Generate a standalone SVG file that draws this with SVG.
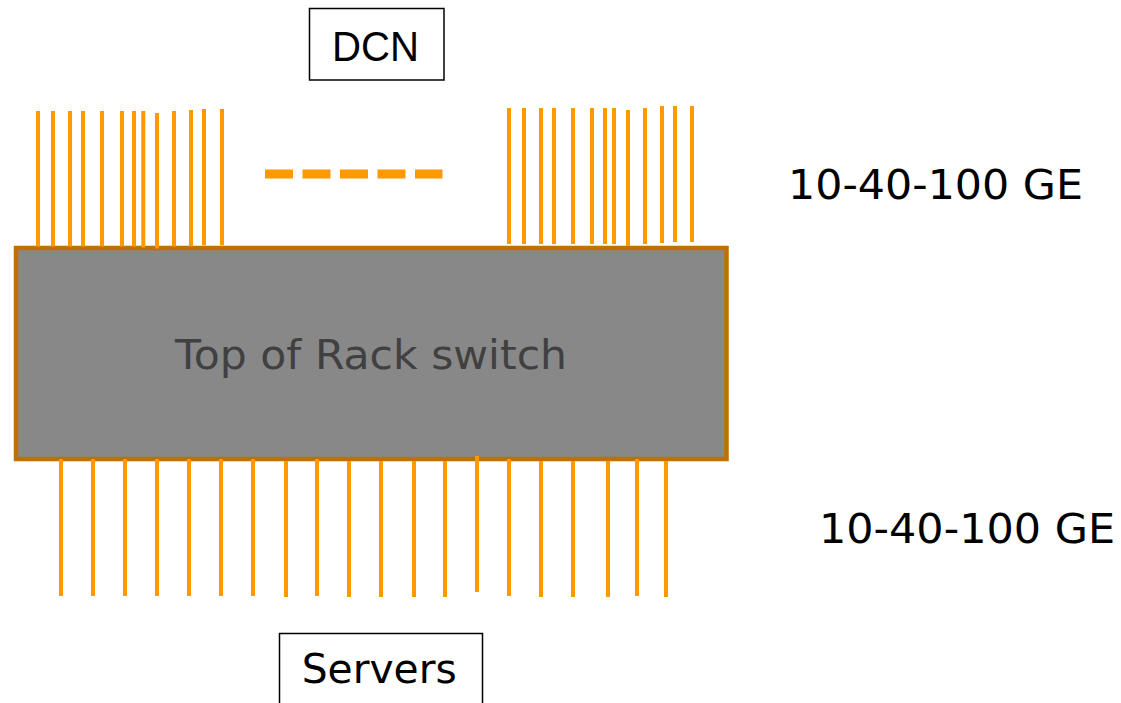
<svg xmlns="http://www.w3.org/2000/svg" width="1121" height="703" viewBox="0 0 1121 703">
  <style>
    .port { stroke: #FF9900; stroke-width: 4; fill: none; }
    .trunk { stroke: #FF9900; stroke-width: 9; stroke-dasharray: 28 9.5; fill: none; }
    .label-box { fill: #FFFFFF; stroke: #000000; stroke-width: 1.5; }
    .label { font-family: "DejaVu Sans", Verdana, sans-serif; fill: #000000; }
  </style>

  <rect width="1121" height="703" fill="#FFFFFF"/>

  <!-- Switch chassis -->
  <g id="tor-switch">
    <rect x="16" y="248" width="710.5" height="211" fill="#888888" stroke="#C07000" stroke-width="4.5"/>
    <text x="371" y="369.3" font-family="DejaVu Sans, Verdana, sans-serif" font-size="40" fill="#404040" text-anchor="middle" textLength="392" lengthAdjust="spacingAndGlyphs">Top of Rack switch</text>
  </g>

  <!-- Uplink and downlink ports -->
  <g id="connectors">
    <!-- uplinks, left bundle -->
    <line class="port" x1="38" y1="111" x2="38" y2="246.5"/>
    <line class="port" x1="53" y1="111" x2="53" y2="246.5"/>
    <line class="port" x1="70" y1="111" x2="70" y2="246.5"/>
    <line class="port" x1="83" y1="111" x2="83" y2="246.5"/>
    <line class="port" x1="102" y1="111" x2="102" y2="246.5"/>
    <line class="port" x1="122" y1="111" x2="122" y2="246.5"/>
    <line class="port" x1="134" y1="111" x2="134" y2="246.5"/>
    <line class="port" x1="143.3" y1="111" x2="143.3" y2="247.5" stroke-width="5"/>
    <line class="port" x1="157" y1="113" x2="157" y2="248.5"/>
    <line class="port" x1="174" y1="111" x2="174" y2="246.5"/>
    <line class="port" x1="191" y1="110" x2="191" y2="246.5"/>
    <line class="port" x1="204" y1="109" x2="204" y2="245.3"/>
    <line class="port" x1="222" y1="109" x2="222" y2="245.3"/>
    <!-- uplinks, right bundle -->
    <line class="port" x1="509" y1="108" x2="509" y2="244"/>
    <line class="port" x1="524" y1="108" x2="524" y2="244"/>
    <line class="port" x1="541" y1="108" x2="541" y2="244"/>
    <line class="port" x1="554" y1="108" x2="554" y2="244"/>
    <line class="port" x1="573" y1="108" x2="573" y2="244"/>
    <line class="port" x1="592" y1="108" x2="592" y2="244"/>
    <line class="port" x1="605" y1="108" x2="605" y2="244"/>
    <line class="port" x1="614" y1="108" x2="614" y2="244"/>
    <line class="port" x1="628" y1="110" x2="628" y2="246"/>
    <line class="port" x1="645" y1="108" x2="645" y2="244"/>
    <line class="port" x1="662" y1="106" x2="662" y2="243"/>
    <line class="port" x1="675" y1="106" x2="675" y2="242"/>
    <line class="port" x1="692" y1="106" x2="692" y2="242"/>
    <!-- elided uplinks -->
    <line class="trunk" x1="265" y1="174" x2="442.5" y2="174"/>
    <!-- server-facing ports -->
    <line class="port" x1="61" y1="459" x2="61" y2="596"/>
    <line class="port" x1="93" y1="459" x2="93" y2="596"/>
    <line class="port" x1="125" y1="459" x2="125" y2="596"/>
    <line class="port" x1="157" y1="459" x2="157" y2="596"/>
    <line class="port" x1="189" y1="459" x2="189" y2="596"/>
    <line class="port" x1="221" y1="459" x2="221" y2="596"/>
    <line class="port" x1="253" y1="459" x2="253" y2="596"/>
    <line class="port" x1="286" y1="461" x2="286" y2="597"/>
    <line class="port" x1="317" y1="459" x2="317" y2="596"/>
    <line class="port" x1="349" y1="461" x2="349" y2="597"/>
    <line class="port" x1="381" y1="461" x2="381" y2="597"/>
    <line class="port" x1="414" y1="461" x2="414" y2="597"/>
    <line class="port" x1="445" y1="461" x2="445" y2="597"/>
    <line class="port" x1="477" y1="456" x2="477" y2="592"/>
    <line class="port" x1="509" y1="459" x2="509" y2="596"/>
    <line class="port" x1="541" y1="461" x2="541" y2="597"/>
    <line class="port" x1="573" y1="461" x2="573" y2="597"/>
    <line class="port" x1="608" y1="461" x2="608" y2="597"/>
    <line class="port" x1="637" y1="459" x2="637" y2="596"/>
    <line class="port" x1="666" y1="461" x2="666" y2="597"/>
  </g>

  <g id="dcn">
    <rect class="label-box" x="309.5" y="8.5" width="134.5" height="71.5"/>
    <text x="375.5" y="61" font-family="Liberation Sans, Arial, sans-serif" font-size="43" text-anchor="middle" textLength="87" lengthAdjust="spacingAndGlyphs">DCN</text>
  </g>

  <g id="servers">
    <rect class="label-box" x="279.5" y="633.5" width="203" height="80"/>
    <text class="label" x="379.2" y="683.3" font-size="40" text-anchor="middle" textLength="155" lengthAdjust="spacingAndGlyphs">Servers</text>
  </g>

  <g id="uplink-speed">
    <text class="label" x="788" y="199.3" font-size="40" textLength="295" lengthAdjust="spacingAndGlyphs">10-40-100 GE</text>
  </g>

  <g id="downlink-speed">
    <text class="label" x="819" y="543.3" font-size="40" textLength="296" lengthAdjust="spacingAndGlyphs">10-40-100 GE</text>
  </g>
</svg>
